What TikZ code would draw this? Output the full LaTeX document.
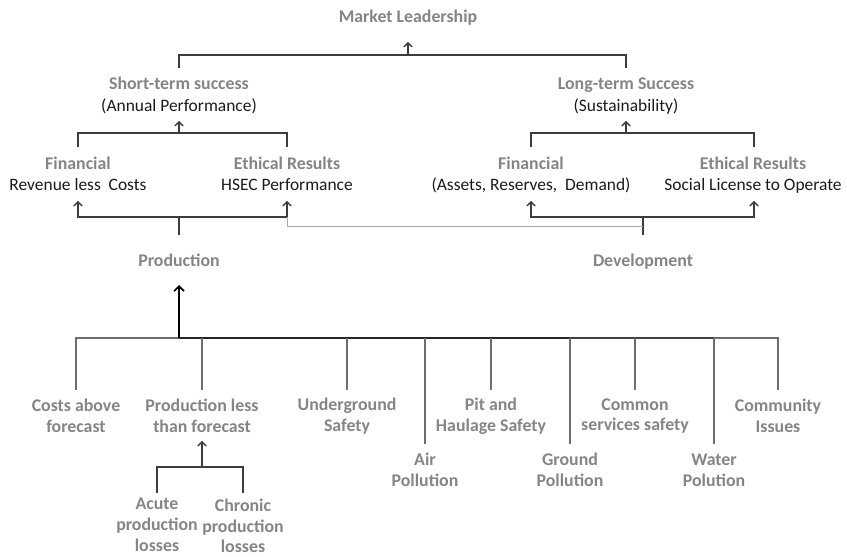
\documentclass[tikz,border=0pt]{standalone}
\usepackage{fontspec}
\setmainfont{Carlito}
\usetikzlibrary{arrows.meta}
\definecolor{hdc}{HTML}{858585}
\definecolor{subc}{HTML}{1A1A1A}
\definecolor{lnc}{HTML}{3C3C3C}
\definecolor{lgc}{HTML}{6E6E6E}
\definecolor{dotc}{HTML}{A8A8A8}
\begin{document}
\begin{tikzpicture}[x=1bp,y=-1bp,
  hd/.style={text=hdc,font=\fontsize{17.9}{20.8}\selectfont\bfseries,align=center,inner sep=0pt},
  sub/.style={text=subc,font=\fontsize{17.5}{20.8}\selectfont,align=center,inner sep=0pt},
  one/.style={text height=14.5bp,text depth=2bp},
  conn/.style={draw=lnc,line width=1.4bp},
  gconn/.style={draw=lgc,line width=1.6bp},
  arr/.style={conn,-{Straight Barb[length=4bp,width=8.5bp,line width=1.4bp]}},
  bigarr/.style={draw=black,line width=1.8bp,-{Straight Barb[length=5bp,width=10bp,line width=1.6bp]}}]
\useasboundingbox (0,0) rectangle (847,557);

% ---- labels ----
\node[hd,one] (ml) at (408,16) {Market Leadership};
\node[hd,one] (st) at (179,83) {Short-term success};
\node[sub,one] (stb) at (179,105) {(Annual Performance)};
\node[hd,one] (lt) at (626,83) {Long-term Success};
\node[sub,one] (ltb) at (626,105) {(Sustainability)};
\node[hd,one] (f1) at (78,163) {Financial};
\node[sub,one] (f1b) at (78,184) {Revenue less\ \ Costs};
\node[hd,one] (e1) at (287,163) {Ethical Results};
\node[sub,one] (e1b) at (287,184) {HSEC Performance};
\node[hd,one] (f2) at (531,163) {Financial};
\node[sub,one] (f2b) at (531,184) {(Assets, Reserves,\ \ Demand)};
\node[hd,one] (e2) at (753,163) {Ethical Results};
\node[sub,one] (e2b) at (753,184) {Social License to Operate};
\node[hd,one] (prod) at (179,260) {Production};
\node[hd,one] (dev) at (643,260) {Development};

\node[hd] (c1) at (76,416) {Costs above\\forecast};
\node[hd] (c2) at (202,416) {Production less\\than forecast};
\node[hd] (c3) at (347,416) {Underground\\Safety};
\node[hd] (c4) at (425,470) {Air\\Pollution};
\node[hd] (c5) at (491,416) {Pit and\\Haulage Safety};
\node[hd] (c6) at (570,470) {Ground\\Pollution};
\node[hd] (c7) at (635,416) {Common\\services safety};
\node[hd] (c8) at (714,470) {Water\\Polution};
\node[hd] (c9) at (778,416) {Community\\Issues};
\node[hd] (a1) at (157,525) {Acute\\production\\losses};
\node[hd] (a2) at (243,526) {Chronic\\production\\losses};

% ---- coordinates ----
\coordinate (mlt) at (408,42);
\coordinate (mlj) at (408,55);
\coordinate (stt) at (179,121);
\coordinate (stj) at (179,133);
\coordinate (ltt) at (626,121);
\coordinate (ltj) at (626,133);
\coordinate (f1t) at (78,201);
\coordinate (e1t) at (287,201);
\coordinate (pj) at (179,217);
\coordinate (f2t) at (531,201);
\coordinate (e2t) at (754,201);
\coordinate (dj) at (643,217);
\coordinate (pt) at (179,285);
\coordinate (bus) at (179,338);
\coordinate (c2t) at (202,441);
\coordinate (c2j) at (202,467);

% ---- top tree ----
\draw[conn] (st.north |- 0,68) |- (ml.south |- mlj) -| (lt.north |- 0,68);
\draw[arr] (mlj) -- (mlt);
\draw[conn] (f1.north |- 0,147) |- (stj) -| (e1.north |- 0,147);
\draw[arr] (stj) -- (stt);
\draw[conn] (f2.north |- 0,147) |- (ltj) -| (e2t |- 0,147);
\draw[arr] (ltj) -- (ltt);

% ---- production / development ----
\draw[arr] (prod.north |- pj) -| (f1t);
\draw[arr] (prod.north |- pj) -| (e1t);
\draw[conn] (prod.north |- 0,235) -- (pj);
\draw[arr] (dev.north |- dj) -| (f2t);
\draw[arr] (dev.north |- dj) -| (e2t);
\draw[conn] (dev.north |- 0,235) -- (dj);
\draw[draw=dotc,line width=1bp] (e1.south |- pj) |- (dev.north |- 0,227);

% ---- bottom bus ----
\draw[gconn] (c1.north |- 0,390) |- (bus) -| (c9.north |- 0,390);
\draw[draw=black!85,line width=2.6bp] (bus) -- (c6.north |- bus);
\draw[draw=black!75,line width=1.9bp] (c6.north |- bus) -- (c8.north |- bus);
\draw[bigarr] (bus) -- (pt);
\draw[gconn] (c2.north |- bus) -- (c2.north |- 0,390);
\draw[gconn] (c3.north |- bus) -- (c3.north |- 0,390);
\draw[gconn] (c4.north |- bus) -- (c4.north |- 0,444);
\draw[gconn] (c5.north |- bus) -- (c5.north |- 0,390);
\draw[gconn] (c6.north |- bus) -- (c6.north |- 0,444);
\draw[gconn] (c7.north |- bus) -- (c7.north |- 0,390);
\draw[gconn] (c8.north |- bus) -- (c8.north |- 0,444);

% ---- production-loss subtree ----
\draw[conn] (a1.north |- 0,493) |- (c2j) -| (a2.north |- 0,493);
\draw[arr] (c2j) -- (c2t);
\end{tikzpicture}
\end{document}
